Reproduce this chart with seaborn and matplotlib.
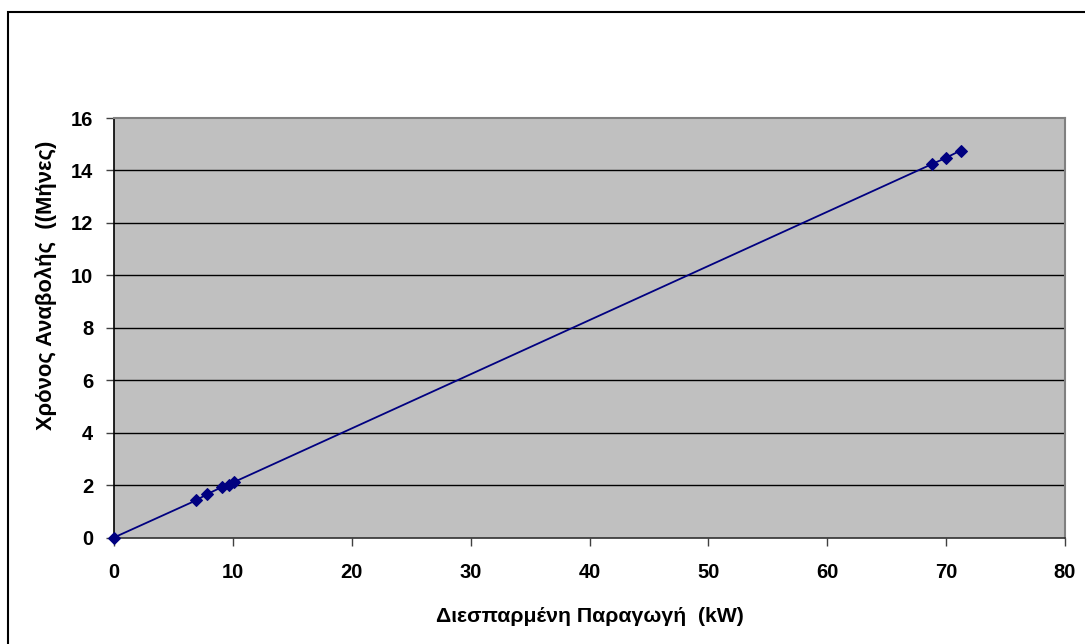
import matplotlib
matplotlib.use("Agg")
import matplotlib.pyplot as plt
from matplotlib.patches import Rectangle
import seaborn as sns
import pandas as pd

# Distributed generation (kW) vs. deferral time (months)
capacity_kw = [0.0, 6.92, 7.82, 9.06, 9.70, 10.12, 68.8, 70.03, 71.21]
deferral_months = [0.0, 1.42, 1.65, 1.92, 1.99, 2.12, 14.24, 14.49, 14.76]

x_ticks = [0, 10, 20, 30, 40, 50, 60, 70, 80]
y_ticks = [0, 2, 4, 6, 8, 10, 12, 14, 16]

x_label = "Διεσπαρμένη Παραγωγή  (kW)"
y_label = "Χρόνος Αναβολής  ((Μήνες)"

NAVY = "#000080"
PLOT_BG = "#C0C0C0"

df = pd.DataFrame({"kw": capacity_kw, "months": deferral_months})

sns.set_theme(style="white")
plt.rcParams["font.family"] = ["Liberation Sans", "DejaVu Sans"]
plt.rcParams["font.weight"] = "bold"

fig = plt.figure(figsize=(10.85, 6.44), dpi=100)
ax = fig.add_axes([114 / 1085, 1 - 537.5 / 644, (1065 - 114) / 1085, (537.5 - 118) / 644])
ax.set_facecolor(PLOT_BG)

sns.lineplot(data=df, x="kw", y="months", ax=ax, color=NAVY, linewidth=1.3,
             marker="D", markersize=6.5, markeredgecolor=NAVY,
             markerfacecolor=NAVY, clip_on=False, zorder=5)

ax.set_xlim(0, 80)
ax.set_ylim(0, 16)
ax.set_xticks(x_ticks)
ax.set_yticks(y_ticks)
tick_font = dict(fontsize=14.5, fontweight="bold", color="black")
ax.set_xticklabels([str(t) for t in x_ticks], **tick_font)
ax.set_yticklabels([str(t) for t in y_ticks], **tick_font)

# horizontal gridlines
for yv in y_ticks[1:-1]:
    ax.axhline(yv, color="black", linewidth=1.0, zorder=1)

ax.tick_params(axis="both", which="major", direction="out", length=6,
               width=1.0, color="#404040", bottom=True, left=True)
ax.tick_params(axis="x", pad=12)
ax.tick_params(axis="y", pad=9)

for side in ("top", "right"):
    ax.spines[side].set_color("#808080")
    ax.spines[side].set_linewidth(1.5)
ax.spines["left"].set_color("black")
ax.spines["left"].set_linewidth(1.2)
ax.spines["bottom"].set_color("#303030")
ax.spines["bottom"].set_linewidth(1.2)

ax.set_xlabel(x_label, fontsize=15.3, fontweight="bold", color="black")
ax.set_ylabel(y_label, fontsize=15.8, fontweight="bold", color="black")
ax.xaxis.set_label_coords(0.5, -0.165)
ax.yaxis.set_label_coords(-0.06, 0.602)

# outer chart frame
fig.patches.append(Rectangle((8 / 1085, -0.05), 1.2, 1 - 12 / 644 + 0.05,
                             transform=fig.transFigure, fill=False,
                             edgecolor="black", linewidth=1.5))

fig.savefig("out.png", dpi=100, facecolor="white")
